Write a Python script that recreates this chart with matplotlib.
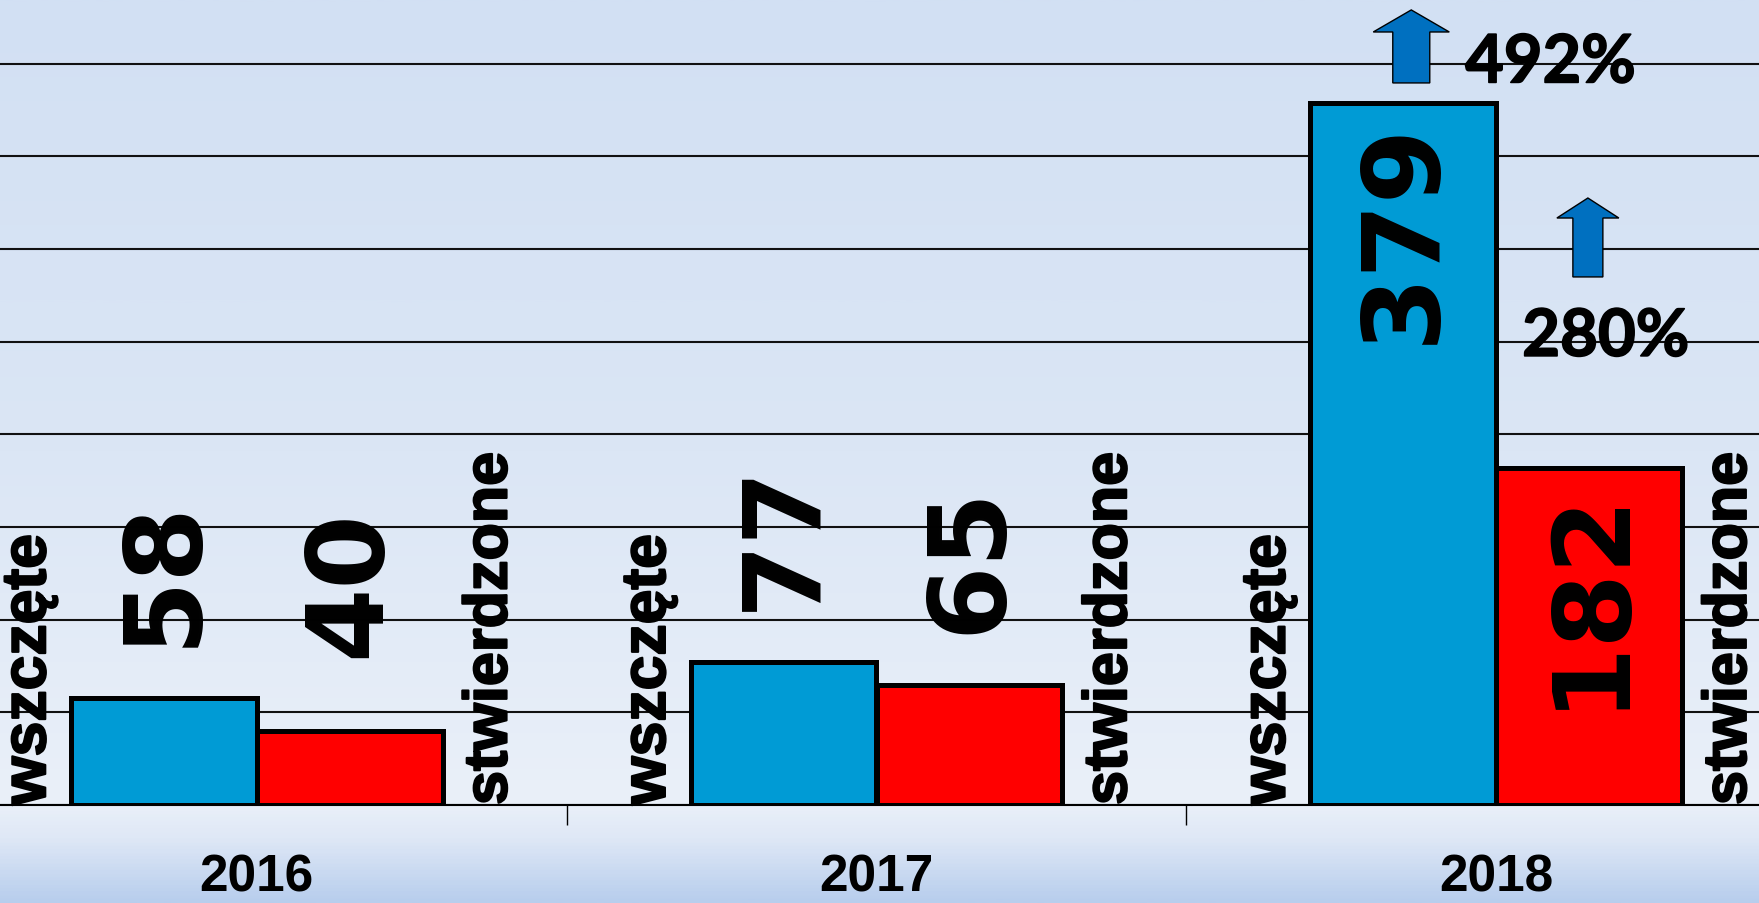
import numpy as np
import matplotlib.pyplot as plt
import matplotlib.transforms as mtransforms
import matplotlib.patheffects as pe
from matplotlib.colors import LinearSegmentedColormap
from matplotlib.patches import FancyArrow

years = ['2016', '2017', '2018']
wszczete = [58, 77, 379]
stwierdzone = [40, 65, 182]
name_left = 'wszczęte'
name_right = 'stwierdzone'

blue = '#009bd5'
red = '#ff0000'
arrow_blue = '#0070c0'

fig = plt.figure(figsize=(17.59, 9.04), dpi=100)

# background gradient over the whole picture
bg = fig.add_axes([0, 0, 1, 1], zorder=-10)
stops = [(0.0, '#d2e0f3'), (0.5, '#dbe6f5'), (0.8916, '#eaf0f9'),
         (0.93, '#dfe8f6'), (1.0, '#b8ceed')]
cmap = LinearSegmentedColormap.from_list('bg', stops)
bg.imshow(np.linspace(0, 1, 600).reshape(-1, 1), aspect='auto', cmap=cmap)
bg.axis('off')

ax = fig.add_axes([-53 / 1759, 98 / 904, 1859 / 1759, 806 / 904])
ax.patch.set_alpha(0)

x = np.arange(len(years))
w = 0.3
ax.bar(x - w / 2, wszczete, w, color=blue, edgecolor='black', linewidth=3.6, zorder=3)
ax.bar(x + w / 2, stwierdzone, w, color=red, edgecolor='black', linewidth=3.6, zorder=3)

ax.set_yticks(np.arange(0, 451, 50))
ax.yaxis.grid(True, color='#111111', linewidth=1.5)
ax.set_axisbelow(True)
ax.tick_params(axis='y', length=0, labelleft=False)
ax.set_xticks(x)
ax.set_xticklabels([])
ax.tick_params(axis='x', which='major', length=0)
ax.set_xticks([-0.5, 0.5, 1.5, 2.5], minor=True)
ax.tick_params(axis='x', which='minor', length=14.4, width=1, color='black', direction='out')
ax.set_xlim(-0.5, 2.5)
ax.set_ylim(0, 435)
for s in ['top', 'left', 'right']:
    ax.spines[s].set_visible(False)
ax.spines['bottom'].set_linewidth(1.5)

num_font = dict(family='DejaVu Sans', fontweight='bold', fontsize=77)
for xs, vals in [(x - w / 2, wszczete), (x + w / 2, stwierdzone)]:
    for xi, v in zip(xs, vals):
        if v > 150:
            ax.text(xi, v - 9, str(v), rotation=90, ha='center', va='top', zorder=5, **num_font)
        else:
            ax.text(xi, max(v + 28, 80), str(v), rotation=90, ha='center', va='bottom',
                    zorder=5, **num_font)

heavy = [pe.withStroke(linewidth=1.5, foreground='black')]
for i in x:
    ax.text(i - 0.368, 0, name_left, rotation=90, ha='center', va='bottom', zorder=5,
            path_effects=heavy, family='Liberation Sans', fontweight='bold', fontsize=45)
    ax.text(i + 0.378, 0, name_right, rotation=90, ha='center', va='bottom', zorder=5,
            path_effects=heavy, family='Liberation Sans', fontweight='bold', fontsize=44)

trans = mtransforms.blended_transform_factory(ax.transData, ax.transAxes)
for i, yr in zip(x, years):
    ax.text(i, -0.12, yr, transform=trans, ha='center', va='bottom',
            family='Liberation Sans', fontweight='bold', fontsize=37, clip_on=False)

# growth 2017 -> 2018
pct_a = round(wszczete[2] / wszczete[1] * 100)
pct_b = round(stwierdzone[2] / stwierdzone[1] * 100)

ax.add_patch(FancyArrow(2 - 0.137, 389.7, 0, 39.4, width=0.0597, head_width=0.1227,
                        head_length=11.9, length_includes_head=True,
                        fc=arrow_blue, ec='black', lw=1, zorder=4))
ax.add_patch(FancyArrow(2 + 0.148, 285, 0, 42.6, width=0.0484, head_width=0.1,
                        head_length=10.8, length_includes_head=True,
                        fc=arrow_blue, ec='black', lw=1, zorder=4))
pct_effect = [pe.withStroke(linewidth=1.2, foreground='black')]
ax.text(2 - 0.05, 390, f'{pct_a}%', ha='left', va='baseline', family='Lato',
        fontweight='bold', fontsize=48, zorder=5, path_effects=pct_effect)
ax.text(2 + 0.042, 242.4, f'{pct_b}%', ha='left', va='baseline', family='Lato',
        fontweight='bold', fontsize=47, zorder=5, path_effects=pct_effect)

fig.savefig('out.png', dpi=100)
